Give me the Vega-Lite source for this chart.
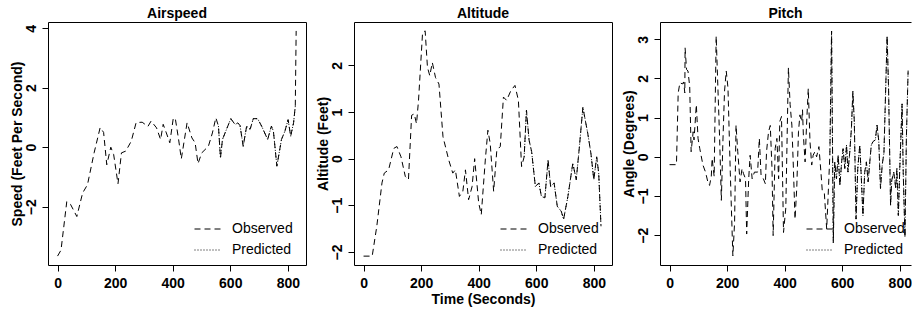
{
  "$schema": "https://vega.github.io/schema/vega-lite/v6.json",
  "padding": {"left": 9, "top": 6, "right": 0, "bottom": 0},
  "background": "white",
  "config": {
    "font": "Liberation Sans",
    "view": {"stroke": "black", "strokeWidth": 1},
    "axis": {
      "grid": false, "domain": false, "domainColor": "black", "domainWidth": 1,
      "tickColor": "black", "tickSize": 6, "tickWidth": 1,
      "labelColor": "black", "labelFont": "Liberation Sans", "labelFontSize": 14, "labelFontWeight": "bold",
      "titleColor": "black", "titleFont": "Liberation Sans", "titleFontSize": 14, "titleFontWeight": "bold"
    },
    "legend": {
      "labelFont": "Liberation Sans", "labelFontSize": 14, "labelColor": "black", "labelFontWeight": "normal",
      "symbolType": "stroke", "symbolSize": 729, "symbolStrokeColor": "black", "symbolStrokeWidth": 1,
      "labelOffset": 10, "rowPadding": -1, "padding": 0
    },
    "title": {"font": "Liberation Sans", "fontSize": 14, "fontWeight": "bold", "color": "black", "baseline": "alphabetic", "offset": 1, "anchor": "middle"},
    "line": {"color": "black", "strokeWidth": 1}
  },
  "datasets": {
    "airspeed": [
      {"s":"Observed","t":0,"v":-3.66},{"s":"Observed","t":12,"v":-3.46},{"s":"Observed","t":32,"v":-1.83},{"s":"Observed","t":45,"v":-1.92},
      {"s":"Observed","t":67,"v":-2.33},{"s":"Observed","t":87,"v":-1.54},{"s":"Observed","t":104,"v":-1.26},{"s":"Observed","t":127,"v":-0.19},
      {"s":"Observed","t":148,"v":0.66},{"s":"Observed","t":160,"v":0.5},{"s":"Observed","t":171,"v":-0.59},{"s":"Observed","t":185,"v":0.0},
      {"s":"Observed","t":195,"v":-0.25},{"s":"Observed","t":210,"v":-1.23},{"s":"Observed","t":222,"v":-0.19},{"s":"Observed","t":237,"v":-0.13},
      {"s":"Observed","t":256,"v":0.2},{"s":"Observed","t":273,"v":0.83},{"s":"Observed","t":294,"v":0.84},{"s":"Observed","t":314,"v":0.7},
      {"s":"Observed","t":325,"v":0.88},{"s":"Observed","t":344,"v":0.65},{"s":"Observed","t":358,"v":0.26},{"s":"Observed","t":367,"v":0.77},
      {"s":"Observed","t":378,"v":0.48},{"s":"Observed","t":390,"v":0.15},{"s":"Observed","t":402,"v":0.97},{"s":"Observed","t":409,"v":0.97},
      {"s":"Observed","t":420,"v":0.3},{"s":"Observed","t":430,"v":-0.39},{"s":"Observed","t":450,"v":0.82},{"s":"Observed","t":467,"v":0.31},
      {"s":"Observed","t":478,"v":0.15},{"s":"Observed","t":488,"v":-0.55},{"s":"Observed","t":501,"v":-0.19},{"s":"Observed","t":524,"v":0.03},
      {"s":"Observed","t":538,"v":0.48},{"s":"Observed","t":550,"v":0.99},{"s":"Observed","t":559,"v":0.71},{"s":"Observed","t":566,"v":-0.36},
      {"s":"Observed","t":573,"v":0.26},{"s":"Observed","t":582,"v":0.48},{"s":"Observed","t":602,"v":0.96},{"s":"Observed","t":617,"v":0.76},
      {"s":"Observed","t":626,"v":0.82},{"s":"Observed","t":634,"v":0.73},{"s":"Observed","t":645,"v":0.03},{"s":"Observed","t":657,"v":0.71},
      {"s":"Observed","t":669,"v":0.6},{"s":"Observed","t":680,"v":0.96},{"s":"Observed","t":695,"v":0.96},{"s":"Observed","t":709,"v":0.71},
      {"s":"Observed","t":730,"v":0.26},{"s":"Observed","t":743,"v":0.71},{"s":"Observed","t":750,"v":0.54},{"s":"Observed","t":762,"v":-0.64},
      {"s":"Observed","t":778,"v":0.26},{"s":"Observed","t":790,"v":0.54},{"s":"Observed","t":801,"v":0.93},{"s":"Observed","t":810,"v":0.37},
      {"s":"Observed","t":820,"v":0.82},{"s":"Observed","t":826,"v":1.38},{"s":"Observed","t":829,"v":3.91},
      {"s":"Predicted","t":559,"v":0.71},{"s":"Predicted","t":566,"v":-0.36},{"s":"Predicted","t":573,"v":0.26},{"s":"Predicted","t":582,"v":0.48},
      {"s":"Predicted","t":602,"v":0.96},{"s":"Predicted","t":617,"v":0.76},{"s":"Predicted","t":626,"v":0.82},{"s":"Predicted","t":634,"v":0.73},
      {"s":"Predicted","t":645,"v":0.03},{"s":"Predicted","t":657,"v":0.71},{"s":"Predicted","t":669,"v":0.6},{"s":"Predicted","t":680,"v":0.96},
      {"s":"Predicted","t":695,"v":0.96},{"s":"Predicted","t":709,"v":0.71},{"s":"Predicted","t":730,"v":0.26},{"s":"Predicted","t":743,"v":0.71},
      {"s":"Predicted","t":750,"v":0.54},{"s":"Predicted","t":762,"v":-0.64},{"s":"Predicted","t":778,"v":0.26},{"s":"Predicted","t":790,"v":0.54},
      {"s":"Predicted","t":801,"v":0.93},{"s":"Predicted","t":810,"v":0.37},{"s":"Predicted","t":820,"v":0.82},{"s":"Predicted","t":826,"v":1.38}
    ],
    "altitude": [
      {"s":"Observed","t":0,"v":-2.09},{"s":"Observed","t":30,"v":-2.09},{"s":"Observed","t":46,"v":-1.45},{"s":"Observed","t":64,"v":-0.52},
      {"s":"Observed","t":72,"v":-0.31},{"s":"Observed","t":87,"v":-0.24},{"s":"Observed","t":105,"v":0.22},{"s":"Observed","t":116,"v":0.26},
      {"s":"Observed","t":130,"v":0.04},{"s":"Observed","t":145,"v":-0.38},{"s":"Observed","t":156,"v":-0.45},{"s":"Observed","t":167,"v":0.93},
      {"s":"Observed","t":176,"v":0.96},{"s":"Observed","t":184,"v":0.75},{"s":"Observed","t":191,"v":1.25},{"s":"Observed","t":205,"v":2.7},
      {"s":"Observed","t":214,"v":2.74},{"s":"Observed","t":222,"v":1.96},{"s":"Observed","t":230,"v":1.78},{"s":"Observed","t":239,"v":2.06},
      {"s":"Observed","t":250,"v":1.74},{"s":"Observed","t":262,"v":1.6},{"s":"Observed","t":276,"v":0.47},{"s":"Observed","t":296,"v":-0.03},
      {"s":"Observed","t":310,"v":-0.31},{"s":"Observed","t":319,"v":-0.24},{"s":"Observed","t":333,"v":-0.81},{"s":"Observed","t":345,"v":-0.7},
      {"s":"Observed","t":354,"v":-0.24},{"s":"Observed","t":365,"v":-0.88},{"s":"Observed","t":377,"v":-0.6},{"s":"Observed","t":386,"v":0.0},
      {"s":"Observed","t":400,"v":-0.95},{"s":"Observed","t":409,"v":-1.2},{"s":"Observed","t":423,"v":-0.03},{"s":"Observed","t":432,"v":0.61},
      {"s":"Observed","t":440,"v":0.33},{"s":"Observed","t":452,"v":-0.7},{"s":"Observed","t":463,"v":0.18},{"s":"Observed","t":475,"v":0.26},
      {"s":"Observed","t":486,"v":1.32},{"s":"Observed","t":497,"v":1.25},{"s":"Observed","t":512,"v":1.46},{"s":"Observed","t":526,"v":1.57},
      {"s":"Observed","t":538,"v":1.25},{"s":"Observed","t":549,"v":-0.17},{"s":"Observed","t":558,"v":0.04},{"s":"Observed","t":566,"v":1.04},
      {"s":"Observed","t":575,"v":0.4},{"s":"Observed","t":584,"v":0.15},{"s":"Observed","t":597,"v":-0.6},{"s":"Observed","t":609,"v":-0.52},
      {"s":"Observed","t":618,"v":-0.81},{"s":"Observed","t":630,"v":-0.84},{"s":"Observed","t":641,"v":-0.03},{"s":"Observed","t":650,"v":-0.6},
      {"s":"Observed","t":662,"v":-0.52},{"s":"Observed","t":673,"v":-1.02},{"s":"Observed","t":687,"v":-1.13},{"s":"Observed","t":695,"v":-1.3},
      {"s":"Observed","t":710,"v":-0.81},{"s":"Observed","t":727,"v":-0.1},{"s":"Observed","t":739,"v":-0.45},{"s":"Observed","t":750,"v":0.26},
      {"s":"Observed","t":762,"v":1.1},{"s":"Observed","t":779,"v":0.54},{"s":"Observed","t":790,"v":0.11},{"s":"Observed","t":800,"v":-0.45},
      {"s":"Observed","t":810,"v":0.04},{"s":"Observed","t":817,"v":-0.31},{"s":"Observed","t":825,"v":-1.45},
      {"s":"Predicted","t":558,"v":0.04},{"s":"Predicted","t":566,"v":1.04},{"s":"Predicted","t":575,"v":0.4},{"s":"Predicted","t":584,"v":0.15},
      {"s":"Predicted","t":597,"v":-0.6},{"s":"Predicted","t":609,"v":-0.52},{"s":"Predicted","t":618,"v":-0.81},{"s":"Predicted","t":630,"v":-0.84},
      {"s":"Predicted","t":641,"v":-0.03},{"s":"Predicted","t":650,"v":-0.6},{"s":"Predicted","t":662,"v":-0.52},{"s":"Predicted","t":673,"v":-1.02},
      {"s":"Predicted","t":687,"v":-1.13},{"s":"Predicted","t":695,"v":-1.3},{"s":"Predicted","t":710,"v":-0.81},{"s":"Predicted","t":727,"v":-0.1},
      {"s":"Predicted","t":739,"v":-0.45},{"s":"Predicted","t":750,"v":0.26},{"s":"Predicted","t":762,"v":1.1},{"s":"Predicted","t":779,"v":0.54},
      {"s":"Predicted","t":790,"v":0.11},{"s":"Predicted","t":800,"v":-0.45},{"s":"Predicted","t":810,"v":0.04},{"s":"Predicted","t":817,"v":-0.31},
      {"s":"Predicted","t":825,"v":-1.45}
    ],
    "pitch": [
      {"s":"Observed","t":0,"v":-0.2},{"s":"Observed","t":24,"v":-0.2},{"s":"Observed","t":30,"v":1.63},{"s":"Observed","t":36,"v":1.89},
      {"s":"Observed","t":45,"v":1.86},{"s":"Observed","t":49,"v":1.91},{"s":"Observed","t":53,"v":1.63},{"s":"Observed","t":54,"v":2.78},
      {"s":"Observed","t":59,"v":2.23},{"s":"Observed","t":64,"v":2.19},{"s":"Observed","t":70,"v":1.8},{"s":"Observed","t":75,"v":0.13},
      {"s":"Observed","t":82,"v":0.64},{"s":"Observed","t":85,"v":0.43},{"s":"Observed","t":93,"v":1.33},{"s":"Observed","t":99,"v":0.47},
      {"s":"Observed","t":105,"v":0.21},{"s":"Observed","t":116,"v":-0.21},{"s":"Observed","t":125,"v":-0.39},{"s":"Observed","t":133,"v":-0.64},
      {"s":"Observed","t":139,"v":-0.73},{"s":"Observed","t":145,"v":-0.5},{"s":"Observed","t":148,"v":-0.04},{"s":"Observed","t":155,"v":-0.5},
      {"s":"Observed","t":162,"v":3.08},{"s":"Observed","t":168,"v":1.76},{"s":"Observed","t":174,"v":0.47},{"s":"Observed","t":180,"v":-1.11},
      {"s":"Observed","t":185,"v":0.3},{"s":"Observed","t":191,"v":1.67},{"s":"Observed","t":197,"v":2.19},{"s":"Observed","t":203,"v":1.76},
      {"s":"Observed","t":211,"v":-0.39},{"s":"Observed","t":220,"v":-2.53},{"s":"Observed","t":226,"v":-1.67},{"s":"Observed","t":231,"v":0.81},
      {"s":"Observed","t":237,"v":0.13},{"s":"Observed","t":245,"v":-0.64},{"s":"Observed","t":252,"v":-0.3},{"s":"Observed","t":257,"v":-0.43},
      {"s":"Observed","t":264,"v":-0.56},{"s":"Observed","t":268,"v":-1.97},{"s":"Observed","t":275,"v":-0.56},{"s":"Observed","t":280,"v":0.04},
      {"s":"Observed","t":287,"v":-0.56},{"s":"Observed","t":295,"v":-0.39},{"s":"Observed","t":306,"v":-0.39},{"s":"Observed","t":312,"v":0.47},
      {"s":"Observed","t":318,"v":-0.47},{"s":"Observed","t":326,"v":-0.56},{"s":"Observed","t":333,"v":-0.69},{"s":"Observed","t":337,"v":0.13},
      {"s":"Observed","t":344,"v":0.64},{"s":"Observed","t":350,"v":0.8},{"s":"Observed","t":356,"v":-0.3},{"s":"Observed","t":360,"v":-2.01},
      {"s":"Observed","t":367,"v":0.21},{"s":"Observed","t":373,"v":0.47},{"s":"Observed","t":379,"v":-0.56},{"s":"Observed","t":383,"v":0.9},
      {"s":"Observed","t":389,"v":1.03},{"s":"Observed","t":396,"v":-1.93},{"s":"Observed","t":404,"v":-1.3},{"s":"Observed","t":413,"v":2.27},
      {"s":"Observed","t":419,"v":1.33},{"s":"Observed","t":425,"v":0.81},{"s":"Observed","t":430,"v":-0.21},{"s":"Observed","t":436,"v":-1.59},
      {"s":"Observed","t":442,"v":-0.8},{"s":"Observed","t":448,"v":0.64},{"s":"Observed","t":453,"v":1.07},{"s":"Observed","t":459,"v":0.9},
      {"s":"Observed","t":462,"v":1.2},{"s":"Observed","t":465,"v":0.55},{"s":"Observed","t":471,"v":-0.13},{"s":"Observed","t":476,"v":0.81},
      {"s":"Observed","t":482,"v":1.74},{"s":"Observed","t":488,"v":0.39},{"s":"Observed","t":494,"v":-0.21},{"s":"Observed","t":499,"v":0.04},
      {"s":"Observed","t":505,"v":0.13},{"s":"Observed","t":511,"v":0.0},{"s":"Observed","t":519,"v":0.26},{"s":"Observed","t":526,"v":-0.39},
      {"s":"Observed","t":531,"v":-0.9},{"s":"Observed","t":538,"v":-0.94},{"s":"Observed","t":546,"v":-1.84},{"s":"Observed","t":551,"v":-1.0},
      {"s":"Observed","t":557,"v":0.04},{"s":"Observed","t":563,"v":3.21},{"s":"Observed","t":569,"v":-2.19},{"s":"Observed","t":574,"v":-0.13},
      {"s":"Observed","t":580,"v":-0.56},{"s":"Observed","t":586,"v":0.04},{"s":"Observed","t":592,"v":-0.73},{"s":"Observed","t":598,"v":-0.13},
      {"s":"Observed","t":603,"v":0.21},{"s":"Observed","t":609,"v":-0.3},{"s":"Observed","t":615,"v":0.3},{"s":"Observed","t":620,"v":-0.39},
      {"s":"Observed","t":626,"v":0.1},{"s":"Observed","t":632,"v":0.73},{"s":"Observed","t":637,"v":1.67},{"s":"Observed","t":642,"v":0.9},
      {"s":"Observed","t":648,"v":-1.59},{"s":"Observed","t":654,"v":-0.3},{"s":"Observed","t":661,"v":0.3},{"s":"Observed","t":666,"v":-0.47},
      {"s":"Observed","t":672,"v":-1.5},{"s":"Observed","t":678,"v":-0.4},{"s":"Observed","t":684,"v":-0.13},{"s":"Observed","t":690,"v":-0.64},
      {"s":"Observed","t":695,"v":-0.2},{"s":"Observed","t":701,"v":0.3},{"s":"Observed","t":707,"v":0.39},{"s":"Observed","t":715,"v":0.43},
      {"s":"Observed","t":721,"v":0.81},{"s":"Observed","t":727,"v":0.4},{"s":"Observed","t":733,"v":-0.81},{"s":"Observed","t":739,"v":-0.2},
      {"s":"Observed","t":745,"v":0.1},{"s":"Observed","t":756,"v":3.08},{"s":"Observed","t":761,"v":1.76},{"s":"Observed","t":768,"v":-1.24},
      {"s":"Observed","t":772,"v":-0.6},{"s":"Observed","t":779,"v":-0.39},{"s":"Observed","t":786,"v":-0.8},{"s":"Observed","t":790,"v":-0.3},
      {"s":"Observed","t":795,"v":-1.5},{"s":"Observed","t":800,"v":-0.3},{"s":"Observed","t":808,"v":1.35},{"s":"Observed","t":812,"v":-0.4},
      {"s":"Observed","t":818,"v":-2.05},{"s":"Observed","t":823,"v":0.5},{"s":"Observed","t":829,"v":2.2},
      {"s":"Predicted","t":557,"v":0.04},{"s":"Predicted","t":563,"v":3.21},{"s":"Predicted","t":569,"v":-2.19},{"s":"Predicted","t":574,"v":-0.13},
      {"s":"Predicted","t":580,"v":-0.56},{"s":"Predicted","t":586,"v":0.04},{"s":"Predicted","t":592,"v":-0.73},{"s":"Predicted","t":598,"v":-0.13},
      {"s":"Predicted","t":603,"v":0.21},{"s":"Predicted","t":609,"v":-0.3},{"s":"Predicted","t":615,"v":0.3},{"s":"Predicted","t":620,"v":-0.39},
      {"s":"Predicted","t":626,"v":0.1},{"s":"Predicted","t":632,"v":0.73},{"s":"Predicted","t":637,"v":1.67},{"s":"Predicted","t":642,"v":0.9},
      {"s":"Predicted","t":648,"v":-1.59},{"s":"Predicted","t":654,"v":-0.3},{"s":"Predicted","t":661,"v":0.3},{"s":"Predicted","t":666,"v":-0.47},
      {"s":"Predicted","t":672,"v":-1.5},{"s":"Predicted","t":678,"v":-0.4},{"s":"Predicted","t":684,"v":-0.13},{"s":"Predicted","t":690,"v":-0.64},
      {"s":"Predicted","t":695,"v":-0.2},{"s":"Predicted","t":701,"v":0.3},{"s":"Predicted","t":707,"v":0.39},{"s":"Predicted","t":715,"v":0.43},
      {"s":"Predicted","t":721,"v":0.81},{"s":"Predicted","t":727,"v":0.4},{"s":"Predicted","t":733,"v":-0.81},{"s":"Predicted","t":739,"v":-0.2},
      {"s":"Predicted","t":745,"v":0.1},{"s":"Predicted","t":756,"v":3.08},{"s":"Predicted","t":761,"v":1.76},{"s":"Predicted","t":768,"v":-1.24},
      {"s":"Predicted","t":772,"v":-0.6},{"s":"Predicted","t":779,"v":-0.39},{"s":"Predicted","t":786,"v":-0.8},{"s":"Predicted","t":790,"v":-0.3},
      {"s":"Predicted","t":795,"v":-1.5},{"s":"Predicted","t":800,"v":-0.3},{"s":"Predicted","t":808,"v":1.35},{"s":"Predicted","t":812,"v":-0.4},
      {"s":"Predicted","t":818,"v":-2.05},{"s":"Predicted","t":823,"v":0.5},{"s":"Predicted","t":829,"v":2.2}
    ]
  },
  "spacing": 48,
  "bounds": "flush",
  "resolve": {"scale": {"strokeDash": "independent", "x": "independent", "y": "independent"}, "legend": {"strokeDash": "independent"}},
  "hconcat": [
    {
      "width": 258, "height": 243,
      "title": "Airspeed",
      "data": {"name": "airspeed"},
      "mark": {"type": "line", "color": "black", "strokeWidth": 1},
      "encoding": {
        "x": {"field": "t", "type": "quantitative", "scale": {"domain": [-33.2, 863.2], "nice": false, "zero": false},
              "axis": {"values": [0, 200, 400, 600, 800], "format": "d", "labelPadding": 5, "labelFlush": false, "title": null}},
        "y": {"field": "v", "type": "quantitative", "scale": {"domain": [-3.96, 4.21], "nice": false, "zero": false},
              "axis": {"values": [-2, 0, 2, 4], "format": "d", "labelAngle": 270, "labelAlign": "center", "labelBaseline": "alphabetic", "labelPadding": 7,
                       "title": "Speed (Feet Per Second)", "titleAngle": 270, "titleAlign": "center", "titleBaseline": "alphabetic", "titleX": -27, "titleY": 121.5}},
        "strokeDash": {"field": "s", "type": "nominal", "scale": {"domain": ["Observed", "Predicted"], "range": [[6, 4], [1, 2]]},
                       "legend": {"orient": "none", "legendX": 146, "legendY": 193, "title": null}}
      }
    },
    {
      "width": 258, "height": 243,
      "title": "Altitude",
      "data": {"name": "altitude"},
      "mark": {"type": "line", "color": "black", "strokeWidth": 1},
      "encoding": {
        "x": {"field": "t", "type": "quantitative", "scale": {"domain": [-33.2, 863.2], "nice": false, "zero": false},
              "axis": {"values": [0, 200, 400, 600, 800], "format": "d", "labelPadding": 5, "labelFlush": false,
                       "title": "Time (Seconds)", "titleBaseline": "alphabetic", "titleY": 38, "titleX": 129}},
        "y": {"field": "v", "type": "quantitative", "scale": {"domain": [-2.28, 2.93], "nice": false, "zero": false},
              "axis": {"values": [-2, -1, 0, 1, 2], "format": "d", "labelAngle": 270, "labelAlign": "center", "labelBaseline": "alphabetic", "labelPadding": 7,
                       "title": "Altitude (Feet)", "titleAngle": 270, "titleAlign": "center", "titleBaseline": "alphabetic", "titleX": -27, "titleY": 121.5}},
        "strokeDash": {"field": "s", "type": "nominal", "scale": {"domain": ["Observed", "Predicted"], "range": [[6, 4], [1, 2]]},
                       "legend": {"orient": "none", "legendX": 146, "legendY": 193, "title": null}}
      }
    },
    {
      "width": 251, "height": 243,
      "title": "Pitch",
      "data": {"name": "pitch"},
      "view": {"stroke": "black", "strokeWidth": 1, "strokeDash": [251, 243, 494, 10]},
      "mark": {"type": "line", "color": "black", "strokeWidth": 1},
      "encoding": {
        "x": {"field": "t", "type": "quantitative", "scale": {"domain": [-33.2, 839], "nice": false, "zero": false},
              "axis": {"values": [0, 200, 400, 600, 800], "format": "d", "labelPadding": 5, "labelFlush": false, "title": null}},
        "y": {"field": "v", "type": "quantitative", "scale": {"domain": [-2.76, 3.44], "nice": false, "zero": false},
              "axis": {"values": [-2, -1, 0, 1, 2, 3], "format": "d", "labelAngle": 270, "labelAlign": "center", "labelBaseline": "alphabetic", "labelPadding": 7,
                       "title": "Angle (Degrees)", "titleAngle": 270, "titleAlign": "center", "titleBaseline": "alphabetic", "titleX": -27, "titleY": 121.5}},
        "strokeDash": {"field": "s", "type": "nominal", "scale": {"domain": ["Observed", "Predicted"], "range": [[6, 4], [1, 2]]},
                       "legend": {"orient": "none", "legendX": 146, "legendY": 193, "title": null}}
      }
    }
  ]
}
